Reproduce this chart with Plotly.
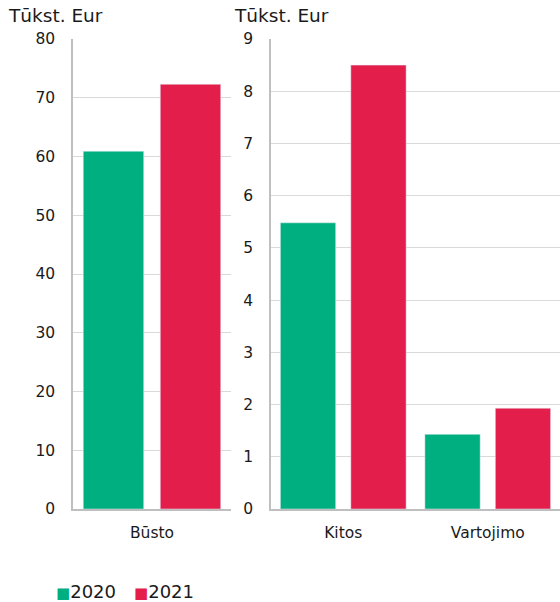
import plotly.graph_objects as go

# Data
years = ["2020", "2021"]
left_categories = ["Būsto"]
left_2020 = [60.9]
left_2021 = [72.3]
right_categories = ["Kitos", "Vartojimo"]
right_2020 = [5.48, 1.43]
right_2021 = [8.50, 1.93]
unit_label = "Tūkst. Eur"
colors = {"2020": "#00AF80", "2021": "#E41E4A"}

FONT = "Verdana, DejaVu Sans, sans-serif"
TXT = "#1a1a1a"

W, H = 560, 602
ml, mr, mt, mb = 73, 0, 39, 93
pw = W - ml - mr
ph = H - mt - mb


def px_x(x):
    return (x - ml) / pw


def px_y(y):
    return (H - mb - y) / ph


left_end = px_x(231)
right_start = px_x(271)

fig = go.Figure()
fig.add_trace(go.Bar(x=left_categories, y=left_2020, name=years[0],
                     marker_color=colors["2020"], xaxis="x", yaxis="y"))
fig.add_trace(go.Bar(x=left_categories, y=left_2021, name=years[1],
                     marker_color=colors["2021"], xaxis="x", yaxis="y"))
fig.add_trace(go.Bar(x=right_categories, y=right_2020, name=years[0],
                     marker_color=colors["2020"], xaxis="x2", yaxis="y2"))
fig.add_trace(go.Bar(x=right_categories, y=right_2021, name=years[1],
                     marker_color=colors["2021"], xaxis="x2", yaxis="y2"))

axis_line = "#BFBFBF"
grid = "#D9D9D9"

common_x = dict(showline=True, linecolor=axis_line, linewidth=1.5,
                ticks="outside", ticklen=9, tickcolor="rgba(0,0,0,0)",
                tickfont=dict(size=15.5, color=TXT), showgrid=False,
                zeroline=False)
common_y = dict(showline=True, linecolor=axis_line, linewidth=1.5,
                showgrid=True, gridcolor=grid, gridwidth=1,
                ticks="outside", ticklen=13, tickcolor="rgba(0,0,0,0)",
                tickfont=dict(size=15.5, color=TXT), zeroline=False)

# Legend drawn as text entries (colored square glyph + year label)
legend_x = [54, 132]
legend_annotations = []
for yr, lx in zip(years, legend_x):
    legend_annotations.append(dict(
        text=f"<span style='color:{colors[yr]};font-size:15px'>■</span>{yr}",
        x=px_x(lx), y=px_y(591), xref="paper", yref="paper",
        xanchor="left", yanchor="middle", showarrow=False,
        font=dict(size=18, color=TXT, family=FONT)))

title_annotations = [
    dict(text=unit_label, x=px_x(6), y=px_y(16), xref="paper", yref="paper",
         xanchor="left", yanchor="middle", showarrow=False,
         font=dict(size=18.5, color=TXT, family=FONT)),
    dict(text=unit_label, x=px_x(232), y=px_y(16), xref="paper", yref="paper",
         xanchor="left", yanchor="middle", showarrow=False,
         font=dict(size=18.5, color=TXT, family=FONT)),
]

fig.update_layout(
    width=W, height=H,
    margin=dict(l=ml, r=mr, t=mt, b=mb),
    paper_bgcolor="white", plot_bgcolor="white",
    font=dict(family=FONT, color=TXT),
    barmode="group", bargap=0.025, bargroupgap=0.215,
    showlegend=False,
    xaxis=dict(domain=[0, left_end], anchor="y", **common_x),
    yaxis=dict(range=[0, 80], dtick=10, anchor="x", **common_y),
    xaxis2=dict(domain=[right_start, 1], anchor="y2", **common_x),
    yaxis2=dict(range=[0, 9], dtick=1, anchor="x2", **common_y),
    annotations=title_annotations + legend_annotations,
)

fig.write_html("out.html")
